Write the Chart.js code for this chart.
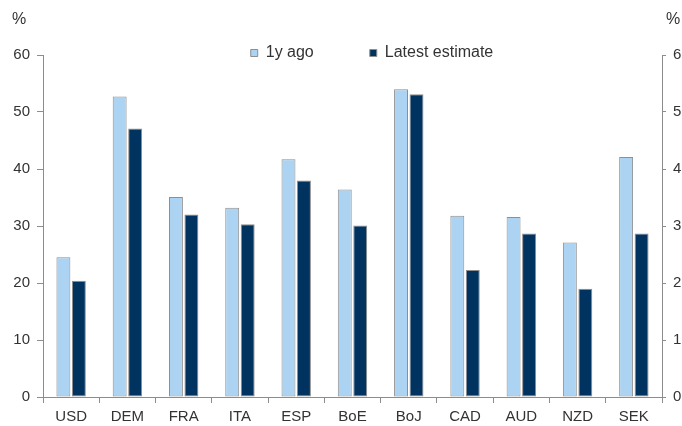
<!DOCTYPE html>
<html>
<head>
<meta charset="utf-8">
<script src="https://cdn.jsdelivr.net/npm/chart.js@4.4.1/dist/chart.umd.min.js"></script>
<style>
  html, body { margin: 0; padding: 0; background: #fff; }
  #wrap { width: 682px; height: 426px; }
</style>
</head>
<body>
<div id="wrap"><canvas id="chart"></canvas></div>
<script>
const categories = ["USD", "DEM", "FRA", "ITA", "ESP", "BoE", "BoJ", "CAD", "AUD", "NZD", "SEK"];
const yearAgo = [24.5, 52.7, 35.1, 33.2, 41.7, 36.4, 54.0, 31.8, 31.6, 27.1, 42.1];
const latest = [20.4, 47.1, 32.0, 30.3, 38.0, 30.1, 53.1, 22.3, 28.7, 19.0, 28.7];
const leftTicks = [0, 10, 20, 30, 40, 50, 60];
const rightTicks = [0, 1, 2, 3, 4, 5, 6];

const FONT = "'Liberation Sans', Arial, sans-serif";
const AXIS = "#8c8c8c";
const TEXT = "#333";
const LEGEND_PAD = 56;

// "%" unit labels above both value axes
const unitLabels = {
  id: "unitLabels",
  afterDraw(chart) {
    const { ctx, scales } = chart;
    ctx.save();
    ctx.font = "16px " + FONT;
    ctx.fillStyle = TEXT;
    ctx.textBaseline = "middle";
    ctx.textAlign = "center";
    ctx.fillText("%", scales.y.left + 19, 20);
    ctx.fillText("%", scales.y2.left + 11, 20);
    ctx.restore();
  }
};

// legend takes no layout room; it is drawn just above the top tick, a bit right of centre
const legendNudge = {
  id: "legendNudge",
  afterLayout(chart) {
    const lg = chart.legend;
    lg.top = 45 - LEGEND_PAD;
    lg.bottom = lg.top + LEGEND_PAD + 30;
    lg.height = lg.bottom - lg.top;
    lg.left += 31;
    lg.right += 31;
  }
};

const tickAxis = (min, max, ticks, position, width, tickLength, padding) => ({
  position,
  min,
  max,
  afterFit: (scale) => { scale.width = width; },
  afterBuildTicks: (scale) => { scale.ticks = ticks.map(v => ({ value: v })); },
  grid: { drawOnChartArea: false, drawTicks: true, tickLength, color: AXIS },
  border: { display: true, color: AXIS },
  ticks: { color: TEXT, padding, font: { family: FONT, size: 15 } }
});

new Chart(document.getElementById("chart"), {
  type: "bar",
  data: {
    labels: categories,
    datasets: [
      {
        label: "1y ago",
        data: yearAgo,
        backgroundColor: "#acd3f1",
        borderColor: "#8e8e8e",
        borderWidth: 1,
        borderSkipped: false,
        yAxisID: "y"
      },
      {
        label: "Latest estimate",
        data: latest,
        backgroundColor: "#003360",
        borderColor: "#8e8e8e",
        borderWidth: 1,
        borderSkipped: false,
        yAxisID: "y"
      }
    ]
  },
  options: {
    responsive: true,
    maintainAspectRatio: false,
    animation: false,
    categoryPercentage: 0.55,
    barPercentage: 0.9,
    layout: { padding: { top: 54, left: 0, right: 0, bottom: -5 } },
    plugins: {
      legend: {
        position: "top",
        maxHeight: 1,
        labels: {
          color: TEXT,
          boxWidth: 7,
          boxHeight: 7,
          padding: LEGEND_PAD,
          font: { family: FONT, size: 16 }
        }
      },
      tooltip: { enabled: false }
    },
    scales: {
      x: {
        grid: { drawOnChartArea: false, drawTicks: true, tickLength: 6, color: AXIS, offset: true },
        border: { display: true, color: AXIS },
        ticks: { color: TEXT, padding: 5, font: { family: FONT, size: 15 } }
      },
      y: tickAxis(0, 60, leftTicks, "left", 43, 6, 7),
      y2: tickAxis(0, 6, rightTicks, "right", 20, 4, 7)
    }
  },
  plugins: [unitLabels, legendNudge]
});
</script>
</body>
</html>
